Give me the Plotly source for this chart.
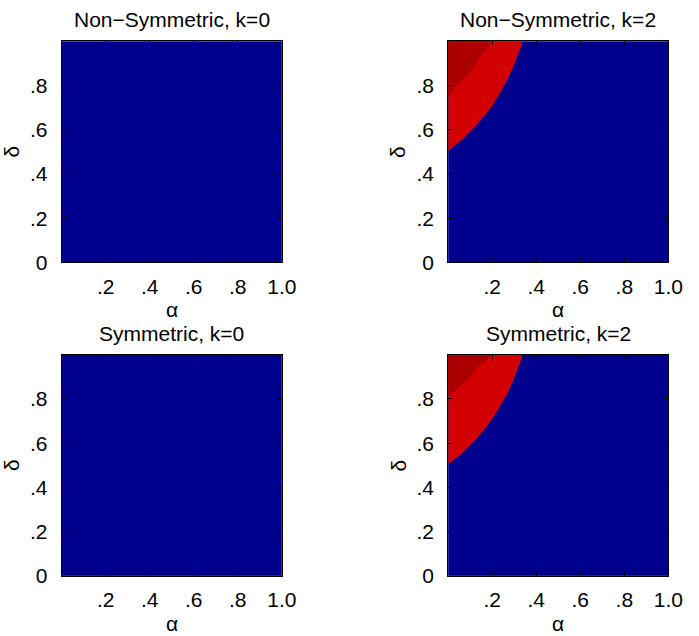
import plotly.graph_objects as go

# ---- data ----
titles = ["Non\u2212Symmetric, k=0", "Non\u2212Symmetric, k=2",
          "Symmetric, k=0", "Symmetric, k=2"]

# outer (red / blue) boundary, k=2 panels
outer_alpha = [0.0, 0.04, 0.08, 0.12, 0.16, 0.20, 0.24, 0.28, 0.30, 0.32, 0.333]
outer_delta = [0.505, 0.535, 0.572, 0.612, 0.658, 0.71, 0.775, 0.85, 0.895, 0.95, 1.0]

# inner (dark red / red) boundary
inner_alpha_ns = [0.0, 0.05, 0.105, 0.157, 0.194]
inner_delta_ns = [0.755, 0.81, 0.87, 0.944, 1.0]
inner_alpha_s = [0.0, 0.068, 0.135, 0.194]
inner_delta_s = [0.81, 0.87, 0.944, 1.0]

xtick_vals = [0.2, 0.4, 0.6, 0.8, 1.0]
xtick_text = [".2", ".4", ".6", ".8", "1.0"]
ytick_vals = [0.0, 0.2, 0.4, 0.6, 0.8]
ytick_text = ["0", ".2", ".4", ".6", ".8"]

BLUE = "#00008F"
RED = "#D20000"
DARK = "#AA0000"
FONT = "Liberation Sans, Arial, sans-serif"
FS = 21

W, H = 699, 636
# pixel boxes of plot areas: (x0, x1, ytop, ybottom)
boxes = [(63, 288, 42, 267), (458, 683, 42, 267),
         (63, 288, 361, 586), (458, 683, 361, 586)]

fig = go.Figure()
layout = dict(width=W, height=H, margin=dict(l=0, r=0, t=0, b=0),
              paper_bgcolor="white", plot_bgcolor=BLUE, showlegend=False,
              annotations=[])

for i, (x0, x1, yt, yb) in enumerate(boxes):
    n = "" if i == 0 else str(i + 1)
    xa, ya = "x" + n, "y" + n
    layout["xaxis" + n] = dict(
        domain=[x0 / W, x1 / W], range=[0, 1], anchor=ya,
        tickvals=xtick_vals, ticktext=xtick_text, ticks="inside", ticklen=4,
        tickcolor="black", showline=True, linecolor="black", linewidth=1,
        mirror="ticks", showgrid=False, zeroline=False, fixedrange=True,
        tickfont=dict(family=FONT, size=FS, color="black"),
        ticklabelstandoff=5)
    layout["yaxis" + n] = dict(
        domain=[1 - yb / H, 1 - yt / H], range=[0, 1], anchor=xa,
        tickvals=ytick_vals, ticktext=ytick_text, ticks="inside", ticklen=4,
        tickcolor="black", showline=True, linecolor="black", linewidth=1,
        mirror="ticks", showgrid=False, zeroline=False, fixedrange=True,
        tickfont=dict(family=FONT, size=FS, color="black"),
        ticklabelstandoff=9)
    cx = (x0 + x1) / 2 / W
    layout["annotations"] += [
        dict(text=titles[i], x=cx, y=1 - (yt - 22) / H, xref="paper", yref="paper",
             xanchor="center", yanchor="middle", showarrow=False,
             font=dict(family=FONT, size=FS, color="black")),
        dict(text="\u03b1", x=cx, y=1 - (yb + 48) / H, xref="paper", yref="paper",
             xanchor="center", yanchor="middle", showarrow=False,
             font=dict(family=FONT, size=FS, color="black")),
        dict(text="\u03b4", x=(x0 - 51) / W, y=1 - (yt + yb) / 2 / H,
             xref="paper", yref="paper", textangle=-90,
             xanchor="center", yanchor="middle", showarrow=False,
             font=dict(family=FONT, size=FS, color="black")),
    ]
    if i in (1, 3):
        ia, idl = (inner_alpha_ns, inner_delta_ns) if i == 1 else (inner_alpha_s, inner_delta_s)
        fig.add_trace(go.Scatter(x=outer_alpha + [0.0], y=outer_delta + [1.0],
                                 mode="lines", fill="toself", fillcolor=RED,
                                 line=dict(width=0, color=RED, shape="spline"),
                                 xaxis=xa, yaxis=ya, hoverinfo="skip"))
        fig.add_trace(go.Scatter(x=ia + [0.0], y=idl + [1.0],
                                 mode="lines", fill="toself", fillcolor=DARK,
                                 line=dict(width=0, color=DARK, shape="spline"),
                                 xaxis=xa, yaxis=ya, hoverinfo="skip"))
    else:
        fig.add_trace(go.Scatter(x=[], y=[], xaxis=xa, yaxis=ya))

fig.update_layout(**layout)
fig.write_html("out.html")
